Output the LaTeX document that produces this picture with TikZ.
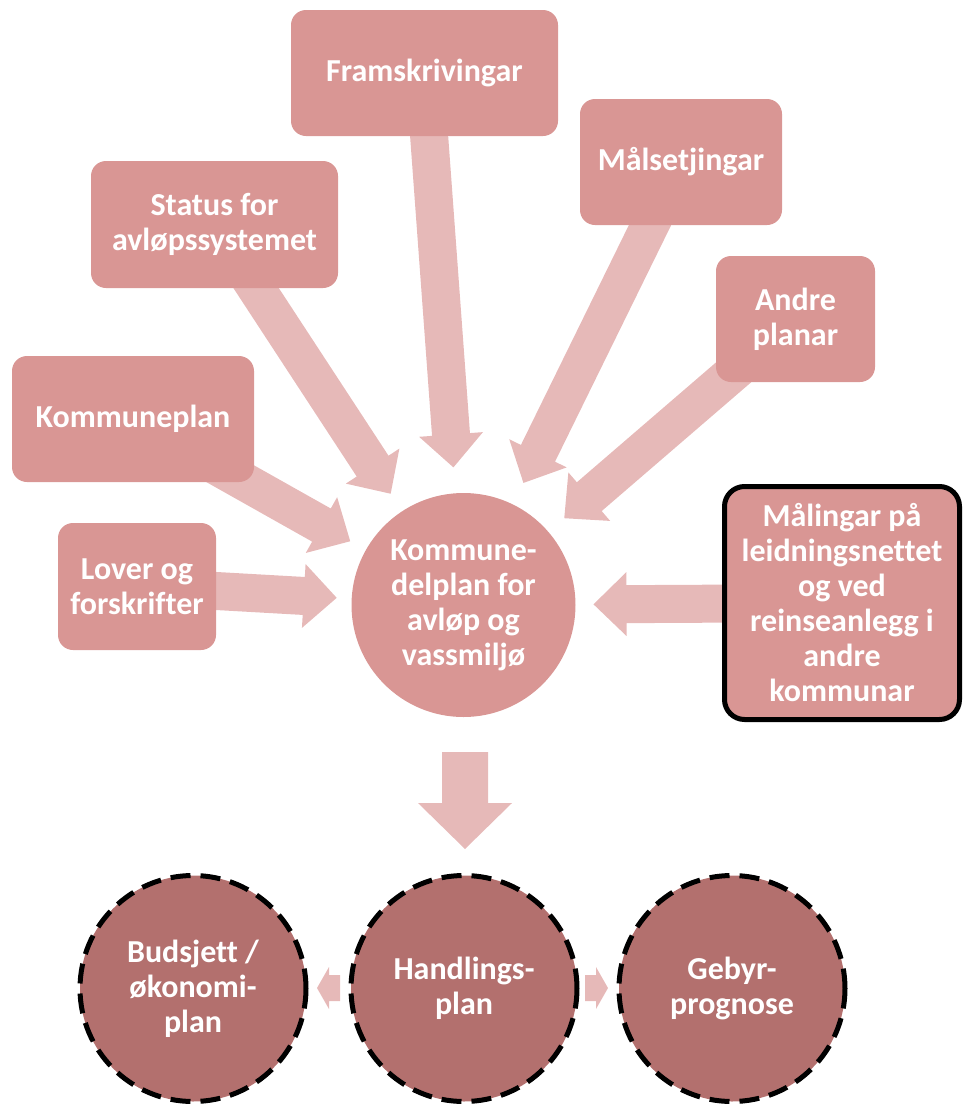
\documentclass[tikz,border=0pt]{standalone}
\usepackage{fontspec}
\setmainfont{Carlito}[Ligatures=NoCommon]
\usetikzlibrary{calc,backgrounds}
\definecolor{boxc}{HTML}{D99694}
\definecolor{arrc}{HTML}{E6B9B8}
\definecolor{darkc}{HTML}{B3706E}
\tikzset{
 txt/.style={text=white, font=\fontsize{32}{35}\bfseries\selectfont, align=center, inner sep=0pt},
 pbox/.style={txt, rectangle, rounded corners=15pt, fill=boxc},
 hubc/.style={txt, circle, fill=boxc, minimum size=224pt},
 dcirc/.style={txt, circle, fill=darkc, draw=black, line width=5pt, dash pattern=on 20pt off 10pt, minimum size=226pt},
 arr/.style={fill=arrc},
}
\newcommand\blockarr[3]{%
 \coordinate (T) at ($(#2.center)!#3!(#1.center)$);
 \coordinate (H) at ($(T)!33pt!(#1.center)$);
 \fill[arr] (T) -- ($(H)!32pt!90:(T)$) -- ($(H)!19pt!90:(T)$) -- ($(#1.center)!19pt!90:(T)$)
   -- ($(#1.center)!19pt!-90:(T)$) -- ($(H)!19pt!-90:(T)$) -- ($(H)!32pt!-90:(T)$) -- cycle;
}
\begin{document}
\begin{tikzpicture}[x=1pt,y=-1pt]
\useasboundingbox (0,0) rectangle (962,1104);
\node[pbox, minimum width=267pt, minimum height=126pt] (fram) at (424.5,73) {Framskrivingar};
\node[pbox, minimum width=202pt, minimum height=126pt] (mals) at (681,162) {Målsetjingar};
\node[pbox, minimum width=247pt, minimum height=127pt] (status) at (214.5,224.5) {Status for\\avløpssystemet};
\node[pbox, minimum width=159pt, minimum height=126pt] (andre) at (795.5,319) {Andre\\planar};
\node[pbox, minimum width=242pt, minimum height=126pt] (kplan) at (133,419) {Kommuneplan};
\node[pbox, minimum width=158pt, minimum height=127pt] (lover) at (137,586.5) {Lover og\\forskrifter};
\node[pbox, draw=black, line width=5pt, rounded corners=20pt, minimum width=235pt, minimum height=233pt] (maal) at (842,603) {Målingar på\\leidningsnettet\\og ved\\reinseanlegg i\\andre\\kommunar};
\node[hubc] (hub) at (463.5,605) {Kommune-\\delplan for\\avløp og\\vassmiljø};
\node[dcirc] (bud) at (193,988.5) {Budsjett /\\økonomi-\\plan};
\node[dcirc] (hand) at (464,988.5) {Handlings-\\plan};
\node[dcirc] (geb) at (732,988.5) {Gebyr-\\prognose};
\begin{scope}[on background layer]
\blockarr{fram}{hub}{138pt}
\blockarr{status}{hub}{133pt}
\blockarr{kplan}{hub}{130pt}
\blockarr{lover}{hub}{127pt}
\blockarr{mals}{hub}{136pt}
\blockarr{andre}{hub}{133pt}
\blockarr{maal}{hub}{130pt}
\end{scope}
\fill[arr] (442,752) -- (488,752) -- (488,803) -- (512,803) -- (465,849) -- (418,803) -- (442,803) -- cycle;
\fill[arr] (317,988) -- (329,967) -- (329,975) -- (340,975) -- (340,1001) -- (329,1001) -- (329,1009) -- cycle;
\fill[arr] (608,988) -- (596,967) -- (596,975) -- (585,975) -- (585,1001) -- (596,1001) -- (596,1009) -- cycle;
\end{tikzpicture}
\end{document}
